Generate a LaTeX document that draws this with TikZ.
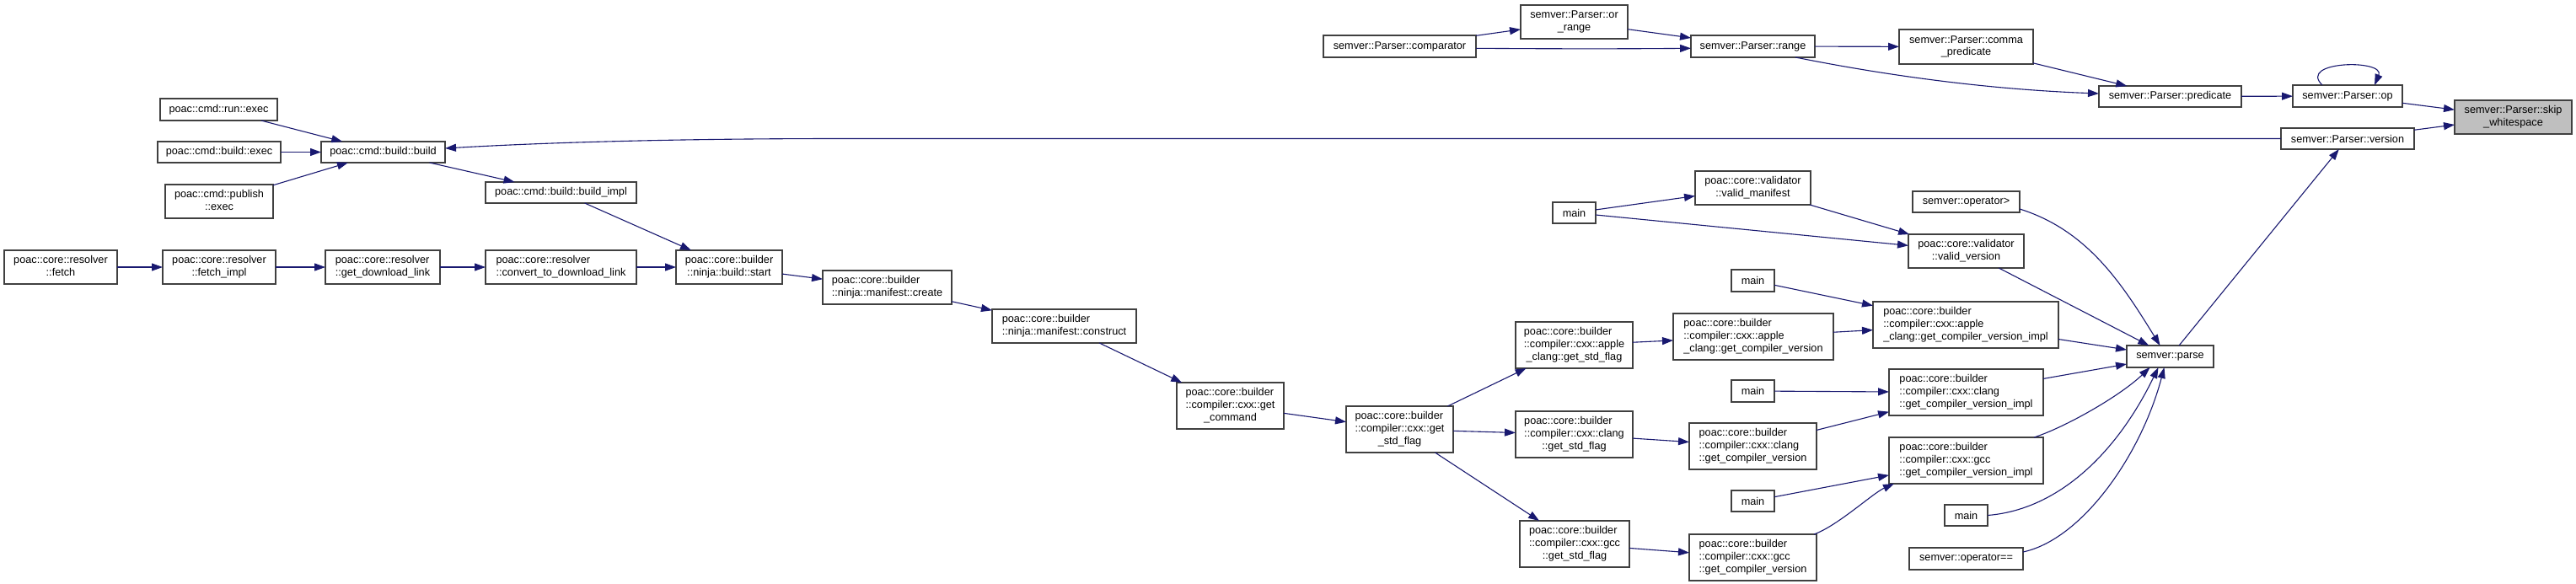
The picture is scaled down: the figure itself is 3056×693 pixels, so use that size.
\documentclass[tikz,border=0pt]{standalone}
\usepackage{fontspec}
\setmainfont{Liberation Sans}
\usetikzlibrary{arrows.meta,calc}
\definecolor{mblue}{HTML}{191970}
\definecolor{bordergray}{HTML}{404040}
\definecolor{nodegray}{HTML}{BFBFBF}
\newcommand\twol[2]{\begin{tabular}{@{}l@{}}#1\\\multicolumn{1}{@{}c@{}}{#2}\end{tabular}}
\newcommand\bx[7][]{%
  \pgfmathsetmacro\mybw{#5-#3}\pgfmathsetmacro\mybh{#6-#4}%
  \pgfmathsetmacro\mybcx{(#3+#5)/2}\pgfmathsetmacro\mybcy{(#4+#6)/2}%
  \node[box,#1,minimum width=\mybw pt,minimum height=\mybh pt] (#2) at (\mybcx,\mybcy) {#7};}
\tikzset{
  box/.style={draw=bordergray, fill=white, line width=1.3pt, inner sep=0pt, outer sep=0pt,
    font=\fontsize{12.7}{14.6}\selectfont},
  conn/.style={draw=mblue, line width=1.1pt, -{Triangle[length=13pt,width=9pt]}}
}
\begin{document}
\begin{tikzpicture}[x=1pt,y=-1pt]
\fill[white] (0,0) rectangle (3056,693);
\useasboundingbox (0,0) rectangle (3056,693);
% nodes: name, x1, y1, x2, y2, text
\bx{runexec}{190}{117}{329}{143}{poac::cmd::run::exec}
\bx{buildexec}{187}{168}{333}{193}{poac::cmd::build::exec}
\bx{publish}{196}{219}{324}{259}{\twol{poac::cmd::publish}{::exec}}
\bx{build}{381}{168}{528}{193}{poac::cmd::build::build}
\bx{buildimpl}{576}{216}{755}{241}{poac::cmd::build::build\_impl}
\bx{fetch}{5}{297}{139}{337}{\twol{poac::core::resolver}{::fetch}}
\bx{fetchimpl}{193}{297}{327}{337}{\twol{poac::core::resolver}{::fetch\_impl}}
\bx{gdl}{386}{297}{522}{337}{\twol{poac::core::resolver}{::get\_download\_link}}
\bx{convert}{576}{297}{755}{337}{\twol{poac::core::resolver}{::convert\_to\_download\_link}}
\bx{start}{802}{297}{928}{337}{\twol{poac::core::builder}{::ninja::build::start}}
\bx{create}{976}{321}{1129}{361}{\twol{poac::core::builder}{::ninja::manifest::create}}
\bx{construct}{1177}{367}{1348}{407}{\twol{poac::core::builder}{::ninja::manifest::construct}}
\bx{getcmd}{1396}{454}{1523}{509}{\twol{poac::core::builder\\::compiler::cxx::get}{\_command}}
\bx{gsf}{1597}{482}{1724}{537}{\twol{poac::core::builder\\::compiler::cxx::get}{\_std\_flag}}
\bx{applegsf}{1798}{382}{1937}{437}{\twol{poac::core::builder\\::compiler::cxx::apple}{\_clang::get\_std\_flag}}
\bx{clanggsf}{1798}{488}{1937}{543}{\twol{poac::core::builder\\::compiler::cxx::clang}{::get\_std\_flag}}
\bx{gccgsf}{1803}{618}{1933}{673}{\twol{poac::core::builder\\::compiler::cxx::gcc}{::get\_std\_flag}}
\bx{mainA}{1842}{240}{1893}{265}{main}
\bx{validman}{2011}{203}{2148}{243}{\twol{poac::core::validator}{::valid\_manifest}}
\bx{mainB}{2054}{320}{2105}{346}{main}
\bx{applegcv}{1985}{372}{2175}{427}{\twol{poac::core::builder\\::compiler::cxx::apple}{\_clang::get\_compiler\_version}}
\bx{mainC}{2054}{451}{2105}{477}{main}
\bx{clanggcv}{2004}{502}{2155}{557}{\twol{poac::core::builder\\::compiler::cxx::clang}{::get\_compiler\_version}}
\bx{mainD}{2054}{582}{2105}{607}{main}
\bx{gccgcv}{2004}{634}{2155}{689}{\twol{poac::core::builder\\::compiler::cxx::gcc}{::get\_compiler\_version}}
\bx{comparator}{1570}{42}{1751}{68}{semver::Parser::comparator}
\bx{orrange}{1804}{6}{1931}{46}{\twol{semver::Parser::or}{\_range}}
\bx{range}{2006}{42}{2153}{68}{semver::Parser::range}
\bx{commapred}{2253}{35}{2412}{76}{\twol{semver::Parser::comma}{\_predicate}}
\bx{predicate}{2490}{102}{2659}{127}{semver::Parser::predicate}
\bx{op}{2720}{101}{2850}{127}{semver::Parser::op}
\bx[fill=nodegray]{skip}{2912}{119}{3051}{159}{\twol{semver::Parser::skip}{\_whitespace}}
\bx{version}{2706}{152}{2864}{177}{semver::Parser::version}
\bx{opgt}{2269}{227}{2396}{252}{semver::operator>}
\bx{validver}{2264}{278}{2401}{318}{\twol{poac::core::validator}{::valid\_version}}
\bx{appleimpl}{2222}{358}{2442}{413}{\twol{poac::core::builder\\::compiler::cxx::apple}{\_clang::get\_compiler\_version\_impl}}
\bx{clangimpl}{2241}{438}{2424}{493}{\twol{poac::core::builder\\::compiler::cxx::clang}{::get\_compiler\_version\_impl}}
\bx{gccimpl}{2241}{519}{2424}{574}{\twol{poac::core::builder\\::compiler::cxx::gcc}{::get\_compiler\_version\_impl}}
\bx{mainE}{2307}{599}{2358}{624}{main}
\bx{opeq}{2265}{650}{2400}{676}{semver::operator==}
\bx{parse}{2523}{410}{2626}{436}{semver::parse}
% connectors
\draw[conn] (runexec) -- (build);
\draw[conn] (buildexec) -- (build);
\draw[conn] (publish) -- (build);
\draw[conn] (build) -- (buildimpl);
\draw[conn] (buildimpl) -- (start);
\draw[conn] (fetch) -- (fetchimpl);
\draw[conn] (fetchimpl) -- (gdl);
\draw[conn] (gdl) -- (convert);
\draw[conn] (convert) -- (start);
\draw[conn] (start) -- (create);
\draw[conn] (create) -- (construct);
\draw[conn] (construct) -- (getcmd);
\draw[conn] (getcmd) -- (gsf);
\draw[conn] (gsf) -- (applegsf);
\draw[conn] (gsf) -- (clanggsf);
\draw[conn] (gsf) -- (gccgsf);
\draw[conn] (applegsf) -- (applegcv);
\draw[conn] (clanggsf) -- (clanggcv);
\draw[conn] (gccgsf) -- (gccgcv);
\draw[conn] (mainA) -- (validman);
\draw[conn] (mainA) -- (validver);
\draw[conn] (validman) -- (validver);
\draw[conn] (mainB) -- (appleimpl);
\draw[conn] (applegcv) -- (appleimpl);
\draw[conn] (mainC) -- (clangimpl);
\draw[conn] (clanggcv) -- (clangimpl);
\draw[conn] (mainD) -- (gccimpl);
\draw[conn] ($(gccgcv.north east)+(-3,0)$) .. controls (2180,624) and (2222,585) .. ($(gccimpl.south west)+(6,0)$);
\draw[conn] ($(opgt.south east)+(0,-4)$) .. controls (2476,273) and (2517,336) .. ($(parse.north)+(-12,0)$);
\draw[conn] (validver) -- (parse);
\draw[conn] (appleimpl) -- (parse);
\draw[conn] (clangimpl) -- (parse);
\draw[conn] ($(gccimpl.north east)+(-11,0)$) .. controls (2450,507) and (2515,470) .. ($(parse.south)+(-24,0)$);
\draw[conn] (mainE.east) .. controls (2440,605) and (2510,540) .. ($(parse.south)+(-14,0)$);
\draw[conn] ($(opeq.east)+(0,-8)$) .. controls (2470,640) and (2540,540) .. ($(parse.south)+(-7,0)$);
\draw[conn] (parse) -- (version);
\draw[conn] (version.west) -- (1000,164.5) .. controls (800,164.5) and (650,169) .. ($(build.east)+(0,-4.5)$);
\draw[conn] (version) -- (skip);
\draw[conn] (op) -- (skip);
\draw[conn] ($(op.north west)+(35,0)$) .. controls (2725,72) and (2830,70) .. ($(op.north west)+(97,0)$);
\draw[conn] (predicate) -- (op);
\draw[conn] (commapred) -- (predicate);
\draw[conn] (range) -- (commapred);
\draw[conn] ($(range.south east)+(-23,0)$) .. controls (2200,82) and (2330,105) .. ($(predicate.west)+(0,-3.5)$);
\draw[conn] (orrange) -- (range);
\draw[conn] ($(comparator.east)+(0,2.3)$) .. controls (1850,58) and (1920,58) .. ($(range.west)+(0,2.3)$);
\draw[conn] (comparator) -- (orrange);
\end{tikzpicture}
\end{document}
